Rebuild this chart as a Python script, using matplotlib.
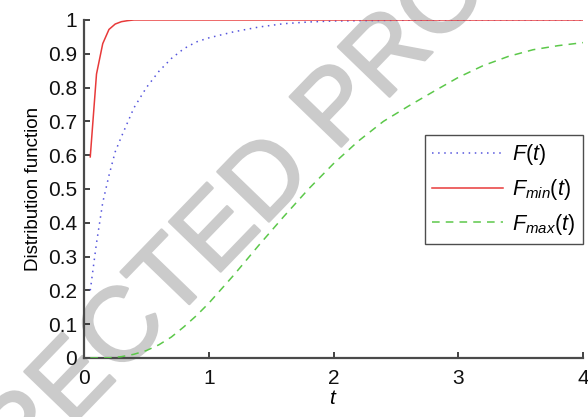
import matplotlib
matplotlib.use("Agg")
import matplotlib.pyplot as plt
import matplotlib.patheffects as pe

plt.rcParams['font.family'] = ['Liberation Sans', 'DejaVu Sans']
plt.rcParams['mathtext.fontset'] = 'custom'
plt.rcParams['mathtext.rm'] = 'Liberation Sans'
plt.rcParams['mathtext.it'] = 'Liberation Sans:italic'

# F(t)
t_F = [0.05, 0.075, 0.1, 0.15, 0.2, 0.25, 0.3, 0.4, 0.5, 0.6, 0.7, 0.8, 0.9, 1.0,
       1.2, 1.4, 1.6, 1.8, 2.0, 2.5, 3.0, 4.0]
F = [0.20, 0.27, 0.34, 0.46, 0.54, 0.61, 0.655, 0.74, 0.80, 0.848, 0.886, 0.915, 0.935, 0.947,
     0.965, 0.979, 0.989, 0.994, 0.997, 0.999, 1.0, 1.0]

# F_min(t)
t_Fmin = [0.05, 0.1, 0.15, 0.2, 0.25, 0.3, 0.35, 0.4, 4.0]
Fmin = [0.595, 0.84, 0.93, 0.972, 0.988, 0.995, 0.998, 1.0, 1.0]

# F_max(t)
t_Fmax = [0.05, 0.2, 0.3, 0.4, 0.5, 0.6, 0.7, 0.8, 0.9, 1.0, 1.2, 1.4, 1.6, 1.8, 2.0,
          2.2, 2.4, 2.6, 2.8, 3.0, 3.2, 3.4, 3.6, 3.8, 4.0]
Fmax = [0.0, 0.0005, 0.004, 0.011, 0.022, 0.039, 0.062, 0.092, 0.125, 0.162, 0.245, 0.333,
        0.418, 0.50, 0.575, 0.642, 0.70, 0.745, 0.788, 0.83, 0.865, 0.892, 0.912, 0.924, 0.933]

xticks = [0, 1, 2, 3, 4]
yticks = [0, 0.1, 0.2, 0.3, 0.4, 0.5, 0.6, 0.7, 0.8, 0.9, 1]
ytick_labels = ['0', '0.1', '0.2', '0.3', '0.4', '0.5', '0.6', '0.7', '0.8', '0.9', '1']
labels = [r'$F(t)$', r'$F_{min}(t)$', r'$F_{max}(t)$']

fig = plt.figure(figsize=(5.88, 4.17), dpi=100)
ax = fig.add_axes([0.1429, 0.1415, 0.8486, 0.8106])

# watermark (behind the axes content)
wm_color = '#cbcbcb'
fig.text(0.349, 0.402, 'CORRECTED PROOF', rotation=46, rotation_mode='anchor',
         ha='center', va='center', fontsize=75, color=wm_color, zorder=-1,
         path_effects=[pe.withStroke(linewidth=1.8, foreground=wm_color)])

ax.plot(t_F, F, linestyle=(0, (1, 3)), color='#5555dd', lw=1.1, label=labels[0], zorder=3)
ax.plot(t_Fmin, Fmin, linestyle='-', color='#e83a3a', lw=1.1, label=labels[1], zorder=3)
ax.plot(t_Fmax, Fmax, linestyle=(0, (5, 4)), color='#5cc84a', lw=1.1, label=labels[2], zorder=3)

ax.set_xlim(0, 4)
ax.set_ylim(0, 1)
ax.set_xticks(xticks)
ax.set_xticklabels([str(v) for v in xticks])
ax.set_yticks(yticks)
ax.set_yticklabels(ytick_labels)
ax.patch.set_alpha(0)
for s in ['top', 'right']:
    ax.spines[s].set_visible(False)
for s in ['left', 'bottom']:
    ax.spines[s].set_color('#4a4a4a')
    ax.spines[s].set_linewidth(1.6)
ax.tick_params(direction='in', length=4, width=1.2, color='#222222', labelsize=15,
               labelcolor='#111111')
ax.tick_params(axis='x', pad=8)
ax.tick_params(axis='y', pad=5)
ax.set_xlabel(r'$t$', fontsize=15, labelpad=1)
ax.set_ylabel('Distribution function', fontsize=13.5, labelpad=4)

leg = ax.legend(loc='upper left', bbox_to_anchor=(0.683, 0.66), borderaxespad=0,
                fontsize=15.5, frameon=True, fancybox=False, edgecolor='#222222',
                handlelength=3.3, handletextpad=0.4, labelspacing=0.45, borderpad=0.35)
leg.get_frame().set_linewidth(1.0)

fig.savefig('out.png', dpi=100)
